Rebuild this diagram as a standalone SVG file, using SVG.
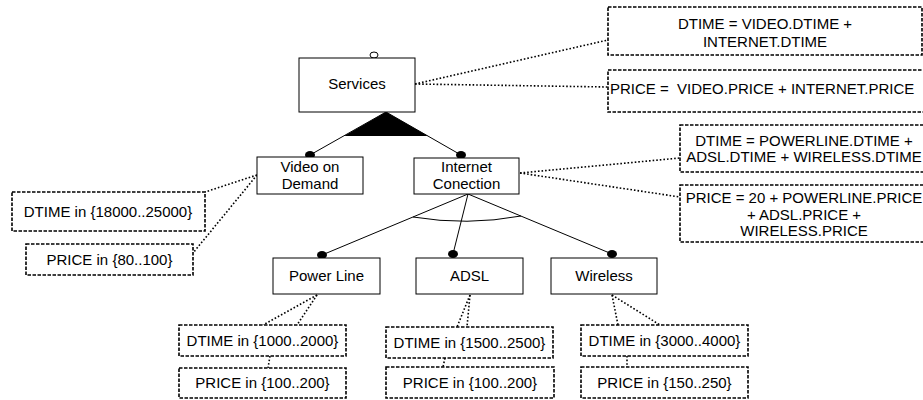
<svg xmlns="http://www.w3.org/2000/svg" width="923" height="400" viewBox="0 0 923 400">
<style>
.box{fill:#fff;stroke:#000;stroke-width:1}
.attr{fill:#fff;stroke:#000;stroke-width:1.6;stroke-dasharray:3.5 1.5}
.dot{fill:none;stroke:#000;stroke-width:1.6;stroke-dasharray:1.6 2}
.ln{fill:none;stroke:#000;stroke-width:1}
text{font-family:"Liberation Sans",Arial,sans-serif;font-size:15px;fill:#000;text-anchor:middle}
</style>
<rect width="923" height="400" fill="#fff"/>
<g id="connectors">
<polygon points="386,112 344,136 428,136" fill="#000"/>
<line class="ln" x1="386" y1="112" x2="310" y2="155"/>
<line class="ln" x1="386" y1="112" x2="461" y2="155"/>
<line class="ln" x1="468" y1="194" x2="322" y2="255"/>
<line class="ln" x1="468" y1="194" x2="453" y2="254"/>
<line class="ln" x1="468" y1="194" x2="612" y2="254"/>
<path class="ln" d="M413,217 Q467,226 521,216"/>
<ellipse cx="310" cy="155" rx="5" ry="4" fill="#000"/>
<ellipse cx="461" cy="155" rx="5" ry="4" fill="#000"/>
<ellipse cx="322" cy="255" rx="5" ry="4" fill="#000"/>
<ellipse cx="453" cy="254" rx="5" ry="4" fill="#000"/>
<ellipse cx="612" cy="254" rx="5" ry="4" fill="#000"/>
<ellipse cx="374" cy="55" rx="4" ry="3" fill="#fff" stroke="#000" stroke-width="1"/>
<line class="dot" x1="415" y1="84" x2="608" y2="40"/>
<line class="dot" x1="415" y1="84" x2="608" y2="87"/>
<line class="dot" x1="520" y1="173" x2="680" y2="158"/>
<line class="dot" x1="520" y1="173" x2="680" y2="197"/>
<line class="dot" x1="257" y1="175" x2="205" y2="192"/>
<line class="dot" x1="257" y1="175" x2="193" y2="253"/>
<line class="dot" x1="317" y1="295" x2="263" y2="325"/>
<line class="dot" x1="317" y1="295" x2="297" y2="325"/>
<line class="dot" x1="270" y1="356" x2="268" y2="368"/>
<line class="dot" x1="470" y1="295" x2="457" y2="327"/>
<line class="dot" x1="470" y1="295" x2="467" y2="327"/>
<line class="dot" x1="445" y1="358" x2="443" y2="367"/>
<line class="dot" x1="612" y1="295" x2="618" y2="325"/>
<line class="dot" x1="612" y1="295" x2="660" y2="325"/>
<line class="dot" x1="627" y1="356" x2="627" y2="367"/>
</g>
<g id="services"><rect class="box" x="299" y="58" width="116" height="54"/><text x="357" y="89">Services</text></g>
<g id="video"><rect class="box" x="257" y="157" width="106" height="37"/><text x="310" y="172">Video on</text><text x="310" y="189">Demand</text></g>
<g id="internet"><rect class="box" x="414" y="158" width="105" height="36"/><text x="466.5" y="172">Internet</text><text x="466.5" y="189">Conection</text></g>
<g id="powerline"><rect class="box" x="273" y="258" width="107" height="36"/><text x="326.5" y="281">Power Line</text></g>
<g id="adsl"><rect class="box" x="416" y="258" width="107" height="36"/><text x="469.5" y="281">ADSL</text></g>
<g id="wireless"><rect class="box" x="551" y="258" width="106" height="36"/><text x="604" y="281">Wireless</text></g>
<g id="services-dtime"><rect class="attr" x="608" y="7" width="314" height="48"/><text x="765" y="29">DTIME = VIDEO.DTIME +</text><text x="765" y="47">INTERNET.DTIME</text></g>
<g id="services-price"><rect class="attr" x="608" y="70" width="318" height="42"/><text x="610" y="94" style="text-anchor:start;white-space:pre">PRICE =  VIDEO.PRICE + INTERNET.PRICE</text></g>
<g id="internet-dtime"><rect class="attr" x="680" y="125" width="246" height="47"/><text x="804" y="146">DTIME = POWERLINE.DTIME +</text><text x="804" y="161.5">ADSL.DTIME + WIRELESS.DTIME</text></g>
<g id="internet-price"><rect class="attr" x="680" y="185" width="246" height="57"/><text x="804" y="203">PRICE = 20 + POWERLINE.PRICE</text><text x="804" y="220">+ ADSL.PRICE +</text><text x="804" y="236">WIRELESS.PRICE</text></g>
<g id="video-dtime"><rect class="attr" x="12" y="192" width="193" height="39"/><text x="108" y="217">DTIME in {18000..25000}</text></g>
<g id="video-price"><rect class="attr" x="26" y="244" width="167" height="31"/><text x="109.5" y="265">PRICE in {80..100}</text></g>
<g id="pl-dtime"><rect class="attr" x="179" y="325" width="167" height="31"/><text x="262.5" y="346">DTIME in {1000..2000}</text></g>
<g id="pl-price"><rect class="attr" x="179" y="368" width="167" height="30"/><text x="262.5" y="388">PRICE in {100..200}</text></g>
<g id="adsl-dtime"><rect class="attr" x="386" y="327" width="167" height="31"/><text x="469.5" y="348">DTIME in {1500..2500}</text></g>
<g id="adsl-price"><rect class="attr" x="386" y="367" width="168" height="31"/><text x="470" y="388">PRICE in {100..200}</text></g>
<g id="wl-dtime"><rect class="attr" x="581" y="325" width="167" height="31"/><text x="664.5" y="346">DTIME in {3000..4000}</text></g>
<g id="wl-price"><rect class="attr" x="581" y="367" width="167" height="31"/><text x="664.5" y="388">PRICE in {150..250}</text></g>
</svg>
